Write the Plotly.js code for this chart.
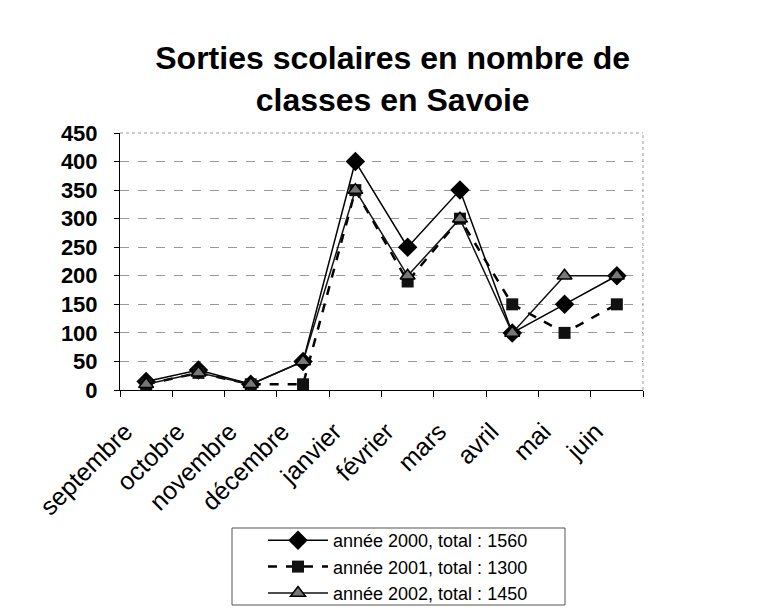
<!DOCTYPE html>
<html><head><meta charset="utf-8">
<script src="https://cdn.plot.ly/plotly-3.0.1.min.js"></script>
<style>html,body{margin:0;padding:0;background:#fff;}#chart{width:773px;height:610px;}</style>
</head><body><div id="chart"></div>
<script>
var months = ["septembre","octobre","novembre","décembre","janvier","février","mars","avril","mai","juin"];
var y2000 = [15, 35, 10, 50, 400, 250, 350, 100, 150, 200];
var y2001 = [10, 30, 10, 10, 350, 190, 300, 150, 100, 150];
var y2002 = [10, 30, 10, 50, 350, 200, 300, 100, 200, 200];
var names = ["année 2000, total : 1560", "année 2001, total : 1300", "année 2002, total : 1450"];
var yTicks = [0,50,100,150,200,250,300,350,400,450];

var traces = [
  {x: months, y: y2000, name: names[0], mode: "lines+markers", type: "scatter",
   line: {color: "#000", width: 1.5},
   marker: {symbol: "diamond", size: 15, color: "#000"}},
  {x: months, y: y2001, name: names[1], mode: "lines+markers", type: "scatter",
   line: {color: "#000", width: 2.5, dash: "dash"},
   marker: {symbol: "square", size: 12, color: "#111"}},
  {x: months, y: y2002, name: names[2], mode: "lines+markers", type: "scatter",
   line: {color: "#111", width: 1.5},
   marker: {symbol: "triangle-up", size: 13, color: "#777", line: {color: "#000", width: 1.5}}}
];

var layout = {
  width: 773, height: 610,
  paper_bgcolor: "#fff", plot_bgcolor: "#fff",
  margin: {l: 120, r: 130, t: 133, b: 220, autoexpand: false},
  font: {family: "Liberation Sans, Arial, sans-serif", color: "#000"},
  title: {text: "<b>Sorties scolaires en nombre de<br>classes en Savoie</b>",
          font: {size: 32, color: "#000"}, x: 0.508, xanchor: "center",
          y: 0.887, yanchor: "top", automargin: false},
  xaxis: {type: "category", tickangle: -45, tickfont: {size: 25, color: "#000"},
          automargin: false, ticklabelstandoff: 16, ticklabelshift: -21,
          showline: true, linecolor: "#000", linewidth: 1, mirror: false,
          ticks: "outside", tickson: "boundaries", ticklen: 6, tickcolor: "#000",
          showgrid: false, zeroline: false, range: [-0.5, 9.5]},
  yaxis: {range: [0, 450], tickvals: yTicks, ticktext: yTicks.map(String),
          automargin: false,
          tickfont: {size: 22, color: "#000", family: "Liberation Sans, Arial, sans-serif", weight: "bold"},
          showline: true, linecolor: "#000", linewidth: 1,
          ticks: "outside", ticklen: 5, tickcolor: "#000", ticklabelstandoff: 12,
          showgrid: true, gridcolor: "#999", griddash: "dash", gridwidth: 1, zeroline: false},
  shapes: [
    {type: "line", xref: "paper", yref: "paper", x0: 0, x1: 1, y0: 1, y1: 1, line: {color: "#999", width: 1, dash: "dot"}},
    {type: "line", xref: "paper", yref: "paper", x0: 1, x1: 1, y0: 0, y1: 1, line: {color: "#999", width: 1, dash: "dot"}},
    {type: "rect", xref: "paper", yref: "paper",
     x0: (232-120)/523, x1: (565-120)/523, y0: (390-605)/257, y1: (390-528)/257,
     line: {color: "#555", width: 1}, fillcolor: "rgba(0,0,0,0)"}
  ],
  showlegend: true,
  legend: {x: (263-120)/523, xanchor: "left", y: (390-522)/257, yanchor: "top",
           borderwidth: 0, bgcolor: "rgba(0,0,0,0)",
           font: {size: 18, color: "#000"}, tracegroupgap: 0, itemwidth: 60}
};

Plotly.newPlot("chart", traces, layout, {displayModeBar: false, staticPlot: true});
</script>
</body></html>
